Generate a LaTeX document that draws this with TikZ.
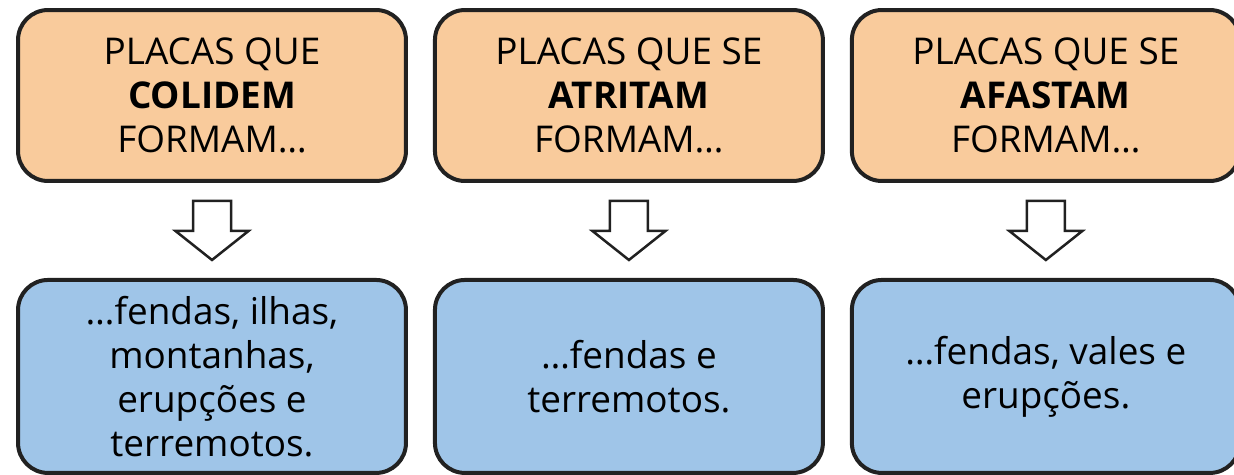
\documentclass[tikz,border=0pt]{standalone}
\usepackage{fontspec}
\setmainfont{Open Sans}
\usetikzlibrary{positioning, calc}
\definecolor{orangefill}{HTML}{F9CB9C}
\definecolor{bluefill}{HTML}{9FC5E8}
\definecolor{boxline}{RGB}{33,33,33}

\begin{document}
\begin{tikzpicture}[x = 0.02cm, y = -0.02cm,
  platebox/.style = {draw = boxline, line width = 0.08cm, rounded corners = 0.6cm, minimum width = 7.76cm, align = center, inner sep = 0pt, font = \fontsize{21}{25}\selectfont},
  topbox/.style = {platebox, fill = orangefill, minimum height = 3.42cm},
  resbox/.style = {platebox, fill = bluefill, minimum height = 3.86cm},
  blockarrow/.style = {draw = boxline, fill = white, line width = 0.05cm, line join = miter}]
\useasboundingbox (0, 0) rectangle (1234, 474);
\node[topbox] (colidem) at (212, 95.5) {PLACAS QUE\\\textbf{COLIDEM}\\FORMAM…};
\node[topbox, right = 0.5cm of colidem] (atritam) {PLACAS QUE SE\\\textbf{ATRITAM}\\FORMAM…};
\node[topbox, right = 0.5cm of atritam] (afastam) {PLACAS QUE SE\\\textbf{AFASTAM}\\FORMAM…};
\node[resbox, below = 1.9cm of colidem] (colidemres) {…fendas, ilhas,\\montanhas,\\erupções e\\terremotos.};
\node[resbox, below = 1.9cm of atritam] (atritamres) {…fendas e\\terremotos.};
\node[resbox, below = 1.9cm of afastam] (afastamres) {…fendas, vales e\\erupções.};
\foreach \t in {colidem, atritam, afastam} {
  \coordinate (m) at ($(\t.south)!0.5!(\t res.north)$);
  \draw[blockarrow, shift = {(m)}] (-19, -29.5) -- (19, -29.5) -- (19, 0.5) -- (36.5, 0.5) -- (0, 29.5) -- (-36.5, 0.5) -- (-19, 0.5) -- cycle;
}
\end{tikzpicture}
\end{document}
